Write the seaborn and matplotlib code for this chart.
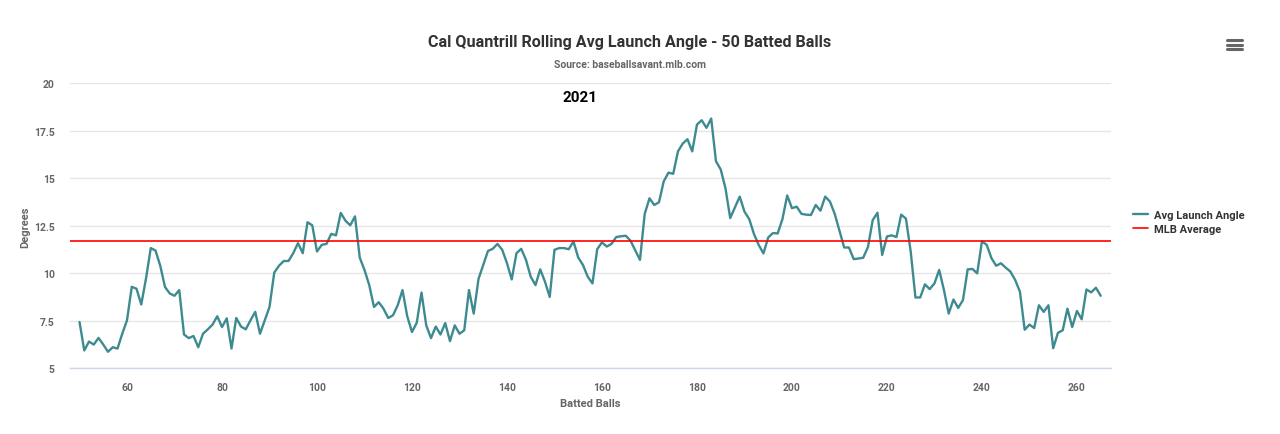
import numpy as np
import pandas as pd
import matplotlib
matplotlib.use("Agg")
import matplotlib.pyplot as plt
import seaborn as sns
from matplotlib.lines import Line2D

# rolling average launch angle, batted balls 50..265
batted_balls = list(range(50, 266))
avg_launch_angle = [
    7.44, 5.94, 6.41, 6.25, 6.60, 6.25, 5.87, 6.11, 6.04, 6.82,
    7.53, 9.29, 9.19, 8.36, 9.73, 11.33, 11.20, 10.40, 9.28, 8.94,
    8.82, 9.12, 6.78, 6.59, 6.70, 6.11, 6.82, 7.05, 7.30, 7.74,
    7.17, 7.63, 6.04, 7.65, 7.20, 7.05, 7.53, 7.97, 6.82, 7.53,
    8.23, 10.04, 10.40, 10.65, 10.65, 11.06, 11.59, 11.06, 12.69, 12.53,
    11.15, 11.50, 11.55, 12.08, 12.00, 13.18, 12.77, 12.53, 13.00, 10.83,
    10.18, 9.38, 8.23, 8.48, 8.14, 7.65, 7.79, 8.32, 9.12, 7.74,
    6.91, 7.40, 8.99, 7.26, 6.59, 7.20, 6.78, 7.38, 6.43, 7.26,
    6.82, 7.00, 9.12, 7.88, 9.70, 10.44, 11.18, 11.29, 11.55, 11.24,
    10.53, 9.68, 11.06, 11.29, 10.71, 9.82, 9.38, 10.21, 9.56, 8.76,
    11.24, 11.33, 11.33, 11.27, 11.68, 10.83, 10.44, 9.82, 9.47, 11.27,
    11.63, 11.41, 11.55, 11.91, 11.95, 11.98, 11.72, 11.22, 10.71, 13.13,
    13.95, 13.60, 13.74, 14.84, 15.30, 15.24, 16.42, 16.83, 17.06, 16.42,
    17.83, 18.06, 17.66, 18.15, 15.90, 15.47, 14.48, 12.91, 13.48, 14.04,
    13.25, 12.86, 12.07, 11.49, 11.05, 11.89, 12.12, 12.10, 12.86, 14.10,
    13.43, 13.51, 13.13, 13.09, 13.07, 13.60, 13.30, 14.04, 13.78, 13.13,
    12.24, 11.36, 11.36, 10.75, 10.78, 10.82, 11.38, 12.80, 13.19, 10.97,
    11.94, 12.00, 11.91, 13.09, 12.88, 11.15, 8.73, 8.73, 9.42, 9.17,
    9.47, 10.18, 9.12, 7.88, 8.62, 8.18, 8.59, 10.21, 10.23, 10.00,
    11.68, 11.50, 10.80, 10.40, 10.53, 10.30, 10.09, 9.65, 9.03, 7.03,
    7.30, 7.12, 8.32, 7.97, 8.32, 6.06, 6.87, 7.00, 8.14, 7.17,
    8.02, 7.58, 9.15, 9.00, 9.24, 8.82,
]
mlb_average = 11.72

title = "Cal Quantrill Rolling Avg Launch Angle - 50 Batted Balls"
subtitle = "Source: baseballsavant.mlb.com"
season = "2021"

df = pd.DataFrame({"Batted Balls": batted_balls, "Avg Launch Angle": avg_launch_angle})

sns.set_style("white")
plt.rcParams["font.family"] = ["Roboto", "DejaVu Sans"]
plt.rcParams["font.weight"] = "bold"

fig = plt.figure(figsize=(12.8, 4.35), dpi=100)
ax = fig.add_axes([0.0547, 0.151, 0.8130, 0.655])

teal = "#3d8b91"
sns.lineplot(data=df, x="Batted Balls", y="Avg Launch Angle", ax=ax,
             color=teal, linewidth=1.7, label="Avg Launch Angle")
ax.axhline(mlb_average, color="#ff0000", linewidth=1.2, label="MLB Average")

ax.set_xlim(48, 267.1)
ax.set_ylim(5, 20)
ax.set_xticks(range(60, 261, 20))
ax.set_yticks([5, 7.5, 10, 12.5, 15, 17.5, 20])
ax.set_yticklabels(["5", "7.5", "10", "12.5", "15", "17.5", "20"])

ax.grid(axis="y", color="#e6e6e6", linewidth=1)
ax.set_axisbelow(True)
for side in ["top", "right", "left"]:
    ax.spines[side].set_visible(False)
ax.spines["bottom"].set_color("#ccd6eb")
ax.spines["bottom"].set_linewidth(1)
ax.tick_params(axis="x", colors="#ccd6eb", length=8, width=1, direction="out", pad=2,
               labelcolor="#666666", labelsize=7.5)
ax.tick_params(axis="y", length=0, pad=11, labelcolor="#666666", labelsize=7.5)
for lab in ax.get_xticklabels() + ax.get_yticklabels():
    lab.set_fontweight("bold")

ax.set_xlabel("Batted Balls", fontsize=8, color="#666666", fontweight="bold", labelpad=4)
ax.set_ylabel("Degrees", fontsize=8, color="#666666", fontweight="bold", labelpad=3)

fig.text(0.492, 0.902, title, ha="center", va="center", fontsize=11.6,
         color="#333333", fontweight="bold")
fig.text(0.492, 0.85, subtitle, ha="center", va="center", fontsize=7.5,
         color="#666666", fontweight="bold")
ax.text(155.4, 19.3, season, ha="center", va="center", fontsize=11,
        color="#000000", fontweight="bold")

leg = ax.legend(loc="center left", bbox_to_anchor=(1.012, 0.515), frameon=False,
                fontsize=8, handlelength=1.3, handletextpad=0.6, labelspacing=0.35)
for t in leg.get_texts():
    t.set_color("#333333")
    t.set_fontweight("bold")

# menu icon
for yy in [0.905, 0.895, 0.885]:
    fig.add_artist(Line2D([0.9585, 0.9705], [yy, yy], color="#666666", linewidth=2.2,
                          transform=fig.transFigure))

fig.savefig("out.png", dpi=100)
